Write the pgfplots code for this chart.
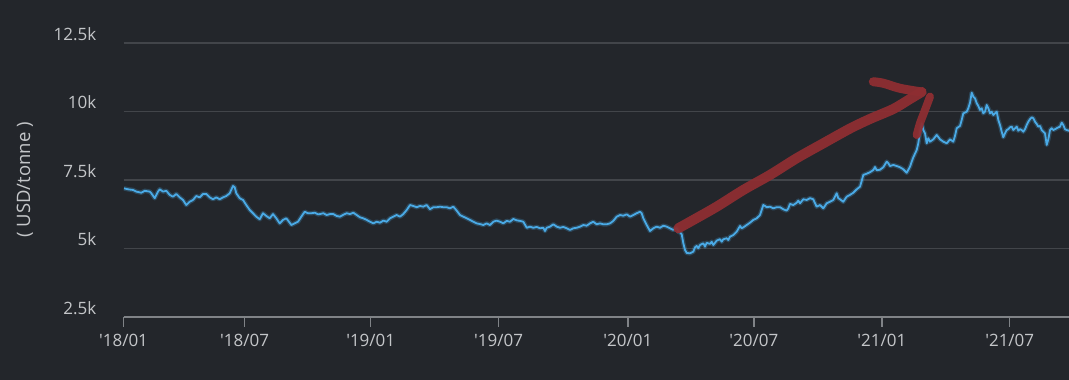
\documentclass[border=0pt]{standalone}
\usepackage{pgfplots}
\pgfplotsset{compat=1.18}
\usepackage{pgfplotstable}
\usepackage{fontspec}
\setmainfont{Open Sans}
\definecolor{bg}{RGB}{35,38,43}
\definecolor{gridc}{RGB}{66,69,74}
\definecolor{axisc}{RGB}{128,131,135}
\definecolor{textc}{RGB}{196,198,201}
\definecolor{linec}{RGB}{74,170,230}
\definecolor{redc}{RGB}{142,46,50}

\pgfplotstableread{
x v
124 7190
128 7155
133 7130
136.3 7070
141.3 7030
144.7 7100
149.7 7070
151.3 7010
154.7 6830
158 7070
159.7 7155
163 7070
166.3 7100
169.7 6950
173 6885
176.3 6985
179.7 6860
183 6765
186.3 6580
189.7 6700
193 6765
196.3 6910
199.7 6860
203 6985
206.3 6985
209.7 6860
213 6790
216.3 6860
219.7 6790
223 6860
226.3 6910
229.7 7010
233 7275
234.7 7230
236.3 7010
239.7 6830
243 6765
246.3 6580
249.7 6400
253 6280
256.3 6155
259.7 6060
263 6280
266.3 6180
269.7 6095
273 6250
276.3 6095
279.7 5910
283 6035
286.3 6095
289.7 5935
291.3 5850
294.7 5910
298 5970
301.3 6155
304.7 6335
308 6280
311.3 6280
314.7 6300
318 6240
320 6250
323.3 6280
326.7 6215
330 6250
333.3 6250
336.7 6180
340 6155
343.3 6225
346.7 6280
350 6250
353.3 6300
356.7 6215
360 6130
363.3 6095
366.7 6035
370 5970
373.3 5910
376.7 5970
380 5935
383.3 6010
386.7 5970
390 6095
393.3 6155
396.7 6215
400 6155
403.3 6250
406.7 6400
410 6580
413.3 6545
416.7 6500
420 6545
423.3 6520
426.7 6580
430 6425
433.3 6500
436.7 6500
440 6520
443.3 6500
446.7 6500
450 6460
453.3 6520
456.7 6375
460 6215
463.3 6155
466.7 6095
470 6035
473.3 5970
476.7 5910
480 5885
483.3 5850
486.7 5910
490 5850
493.3 5970
496.7 6010
500 5970
503.3 5910
506.7 6000
510 5970
513.3 6070
516.7 6020
520 6000
523.3 5970
526.7 5750
530 5790
533.3 5750
536.7 5780
540 5730
543.3 5750
545 5630
546.7 5750
550 5790
553.3 5875
556.7 5790
560 5750
563.3 5780
566.7 5730
570 5670
573.3 5730
576.7 5750
580 5790
583.3 5850
586.7 5825
590 5910
593.3 5970
596.7 5875
600 5910
603.3 5875
606.7 5875
610 5910
613.3 6000
616.7 6155
620 6215
623.3 6190
626.7 6240
630 6155
633.3 6215
636.7 6280
640 6335
641.7 6280
643.3 6095
646.7 5850
650 5630
653.3 5730
656.7 5790
660 5750
663.3 5825
666.7 5790
670 5730
673.3 5670
676.7 5730
678.3 5605
680 5580
681.7 5510
683.3 5190
685 4940
686.7 4830
690 4815
693.3 4875
695 5035
696.7 5085
698.3 5000
700 5120
703.3 5180
705 5060
706.7 5200
710 5160
711.7 5240
713.3 5120
716.7 5280
720 5330
721.7 5240
723.3 5330
726.7 5365
728.3 5300
730 5425
733.3 5485
736.7 5605
740 5815
741.7 5730
743.3 5765
746.7 5850
750 5935
753.3 6035
756.7 6095
760 6215
761.7 6400
763.3 6580
765 6545
766.7 6500
770 6520
773.3 6460
776.7 6500
780 6500
783.3 6425
786.7 6375
788.3 6460
790 6620
793.3 6580
796.7 6665
798.3 6740
800 6645
803.3 6790
806.7 6765
810 6830
813.3 6790
815 6645
816.7 6520
820 6580
823.3 6460
826.7 6645
830 6700
833.3 6765
836.7 7010
838.3 6830
840 6790
843.3 6700
846.7 6885
850 6950
853.3 7030
856.7 7155
860 7250
861.7 7460
863.3 7680
866.7 7725
870 7780
873.3 7860
875 7970
876.7 7850
880 7870
883.3 7960
886.7 8165
888.3 8105
890 8005
893.3 8045
896.7 8005
900 7960
903.3 7885
906.7 7760
910 7980
911.7 8165
913.3 8325
916.7 8590
918.3 8835
920 9260
921.7 9565
923.3 9320
925 9200
926.7 8835
928.3 9020
930 8895
933.3 8980
936.7 9140
940 8980
943.3 8895
946.7 8835
950 8980
953.3 8895
955 9105
956.7 9385
960 9470
961.7 9690
963.3 9930
966.7 9990
968.3 10115
970 10320
971.7 10685
973.3 10540
975 10480
976.7 10300
978.3 10200
980 10055
981.7 10115
983.3 9930
985 9990
986.7 10235
988.3 10115
990 9930
991.7 9990
993.3 9870
995 9930
996.7 9990
998.3 9690
1000 9505
1001.7 9260
1003.3 9055
1005 9200
1006.7 9320
1008.3 9350
1010 9420
1011.7 9445
1013.3 9320
1015 9385
1016.7 9445
1018.3 9295
1020 9350
1021.7 9320
1023.3 9260
1025 9350
1026.7 9505
1028.3 9625
1030 9715
1031.7 9785
1033.3 9750
1035 9625
1036.7 9540
1038.3 9445
1040 9470
1041.7 9320
1043.3 9260
1045 9200
1046.7 8775
1048.3 8980
1050 9320
1051.7 9385
1053.3 9320
1055 9350
1056.7 9385
1060 9445
1061.7 9590
1063.3 9505
1065 9350
1066.7 9320
1069 9295
}\copper

\begin{document}
\begin{tikzpicture}
\useasboundingbox (0,0) rectangle (1069bp,380bp);
\fill[bg] (0,0) rectangle (1069bp,380bp);
\begin{axis}[
  at={(123.5bp,63.3bp)}, anchor=south west,
  scale only axis, width=945.5bp, height=273.7bp,
  xmin=123.5, xmax=1069, ymin=2500, ymax=12500,
  scaled x ticks=false, scaled y ticks=false,
  axis x line*=bottom, axis y line*=left,
  y axis line style={draw=none},
  x axis line style={color=axisc, line width=2bp},
  xtick={123.5,244.6,370.7,498.6,627.8,753.9,881.8,1009.7},
  xticklabels={\textquotesingle18/01,\textquotesingle18/07,\textquotesingle19/01,\textquotesingle19/07,\textquotesingle20/01,\textquotesingle20/07,\textquotesingle21/01,\textquotesingle21/07},
  ytick={2500,5000,7500,10000,12500},
  yticklabels={2.5k,5k,7.5k,10k,12.5k},
  tick align=outside, major tick length=10bp,
  xtick style={color=axisc, line width=1.5bp},
  ytick style={draw=none},
  ymajorgrids, grid style={color=gridc, line width=1.5bp},
  ticklabel style={font=\fontsize{17bp}{20bp}\selectfont, text=textc},
  xticklabel style={anchor=base, inner sep=0pt, yshift=-20bp},
  yticklabel style={anchor=base east, inner sep=0pt, xshift=-17bp, yshift=2.5bp},
  ylabel={( USD/tonne )},
  ylabel style={at={(axis description cs:-0.1042,0.5)}, anchor=center, font=\fontsize{18.5bp}{22bp}\selectfont, text=textc},
  clip=true,
]
\addplot[color=linec, opacity=0.25, line width=4.5bp, line join=round] table[x=x,y=v] {\copper};
\addplot[color=linec, line width=1.8bp, line join=round] table[x=x,y=v] {\copper};
% hand-drawn red annotation arrow
\addplot[color=redc, opacity=0.95, line width=10bp, line cap=round, smooth] coordinates {
(678.3,5730) (693.3,6035) (716.7,6520) (743.3,7130) (770,7680) (796.7,8290) (823.3,8835) (850,9375) (870,9725) (893.3,10090) (910,10455) (921.7,10710)};
\addplot[color=redc, opacity=0.95, line width=9bp, line cap=round, smooth] coordinates {
(873.3,11085) (883.3,11030) (900,10845) (921.7,10710)};
\addplot[color=redc, opacity=0.95, line width=8bp, line cap=round, smooth] coordinates {
(930,10540) (925,10050) (920,9570) (916.7,9140)};
\end{axis}
\end{tikzpicture}
\end{document}
